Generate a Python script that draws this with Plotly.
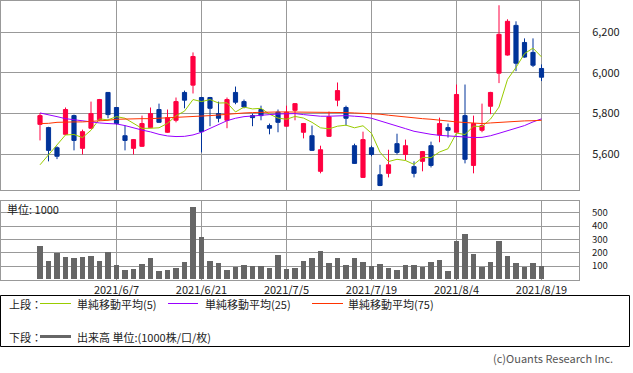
import plotly.graph_objects as go

# ---------------- data ----------------
dates = [
    "2021/5/25", "2021/5/26", "2021/5/27", "2021/5/28", "2021/5/31",
    "2021/6/1", "2021/6/2", "2021/6/3", "2021/6/4", "2021/6/7",
    "2021/6/8", "2021/6/9", "2021/6/10", "2021/6/11", "2021/6/14",
    "2021/6/15", "2021/6/16", "2021/6/17", "2021/6/18", "2021/6/21",
    "2021/6/22", "2021/6/23", "2021/6/24", "2021/6/25", "2021/6/28",
    "2021/6/29", "2021/6/30", "2021/7/1", "2021/7/2", "2021/7/5",
    "2021/7/6", "2021/7/7", "2021/7/8", "2021/7/9", "2021/7/12",
    "2021/7/13", "2021/7/14", "2021/7/15", "2021/7/16", "2021/7/19",
    "2021/7/20", "2021/7/21", "2021/7/26", "2021/7/27", "2021/7/28",
    "2021/7/29", "2021/7/30", "2021/8/2", "2021/8/3", "2021/8/4",
    "2021/8/5", "2021/8/6", "2021/8/10", "2021/8/11", "2021/8/12",
    "2021/8/13", "2021/8/16", "2021/8/17", "2021/8/18", "2021/8/19",
]

open_ = [5747, 5731, 5632, 5698, 5790, 5629, 5728, 5770, 5904, 5830,
         5691, 5629, 5639, 5731, 5820, 5708, 5767, 5904, 5940, 5879,
         5879, 5800, 5767, 5904, 5859, 5790, 5820, 5741, 5807, 5738,
         5816, 5708, 5691, 5516, 5688, 5866, 5830, 5642, 5486, 5632,
         5499, 5506, 5652, 5599, 5539, 5565, 5642, 5695, 5731, 5708,
         5790, 5545, 5718, 5836, 5999, 6088, 6234, 6150, 6101, 6022]
high = [5803, 5735, 5639, 5830, 5795, 5721, 5859, 5872, 5905, 5832,
        5741, 5675, 5790, 5830, 5849, 5820, 5879, 5913, 6101, 5882,
        5882, 5859, 5879, 5933, 5869, 5800, 5839, 5751, 5820, 5839,
        5852, 5754, 5741, 5642, 5810, 5953, 5839, 5652, 5711, 5642,
        5548, 5622, 5701, 5672, 5565, 5616, 5662, 5780, 5751, 5943,
        5943, 5790, 5849, 5907, 6333, 6264, 6254, 6170, 6170, 6042]
low = [5668, 5565, 5576, 5695, 5619, 5599, 5725, 5765, 5777, 5746,
       5619, 5599, 5636, 5728, 5755, 5705, 5757, 5826, 5899, 5609,
       5738, 5757, 5728, 5846, 5826, 5738, 5767, 5698, 5708, 5735,
       5767, 5678, 5616, 5506, 5685, 5836, 5741, 5552, 5483, 5590,
       5443, 5486, 5599, 5570, 5486, 5516, 5535, 5659, 5682, 5705,
       5555, 5506, 5708, 5797, 5950, 6085, 6009, 6075, 6029, 5960]
close = [5790, 5619, 5590, 5820, 5668, 5711, 5800, 5869, 5795, 5751,
         5668, 5672, 5751, 5800, 5757, 5780, 5859, 5866, 6081, 5711,
         5826, 5777, 5869, 5856, 5833, 5780, 5790, 5728, 5757, 5807,
         5849, 5751, 5619, 5622, 5784, 5913, 5777, 5555, 5672, 5599,
         5446, 5548, 5609, 5642, 5506, 5613, 5545, 5751, 5718, 5894,
         5575, 5751, 5741, 5904, 6190, 6254, 6048, 6078, 6038, 5979]

ma5 = [5548, 5596, 5642, 5695, 5697, 5682, 5718, 5774, 5769, 5785,
       5777, 5751, 5727, 5728, 5730, 5752, 5789, 5812, 5869, 5859,
       5869, 5852, 5853, 5808, 5832, 5823, 5826, 5797, 5778, 5772,
       5786, 5778, 5757, 5730, 5725, 5738, 5743, 5730, 5740, 5703,
       5610, 5564, 5575, 5569, 5550, 5584, 5583, 5611, 5627, 5704,
       5697, 5738, 5736, 5773, 5832, 5968, 6027, 6095, 6122, 6079]
ma25 = [5803, 5795, 5785, 5775, 5769, 5764, 5759, 5754, 5751, 5749,
        5741, 5729, 5719, 5710, 5698, 5690, 5687, 5688, 5695, 5708,
        5728, 5749, 5765, 5777, 5785, 5788, 5793, 5795, 5798, 5800,
        5800, 5795, 5790, 5787, 5787, 5788, 5790, 5787, 5784, 5777,
        5765, 5752, 5739, 5726, 5713, 5705, 5698, 5693, 5690, 5687,
        5683, 5682, 5683, 5691, 5703, 5716, 5728, 5741, 5759, 5774]
ma75 = [5751, 5752, 5757, 5759, 5759, 5759, 5761, 5764, 5767, 5772,
        5774, 5774, 5775, 5775, 5777, 5777, 5779, 5782, 5784, 5787,
        5790, 5793, 5797, 5800, 5803, 5805, 5807, 5807, 5808, 5808,
        5808, 5808, 5808, 5808, 5807, 5807, 5805, 5803, 5802, 5800,
        5797, 5792, 5787, 5784, 5780, 5775, 5772, 5767, 5762, 5759,
        5756, 5752, 5751, 5754, 5757, 5761, 5762, 5764, 5765, 5767]

volume = [249, 138, 195, 168, 160, 168, 175, 138, 205, 109,
          73, 80, 116, 160, 65, 73, 88, 131, 546, 316,
          138, 124, 73, 96, 109, 101, 101, 88, 183, 80,
          88, 138, 160, 212, 123, 160, 109, 160, 131, 101,
          116, 86, 72, 109, 109, 94, 131, 146, 65, 286,
          338, 190, 94, 131, 286, 175, 123, 94, 123, 101]

date_ticks = ["2021/6/7", "2021/6/21", "2021/7/5", "2021/7/19", "2021/8/4", "2021/8/19"]
price_ticks = [5600, 5800, 6000, 6200]
vol_ticks = [100, 200, 300, 400, 500]

legend_names = ["単純移動平均(5)", "単純移動平均(25)", "単純移動平均(75)"]
volume_name = "出来高 単位:(1000株/口/枚)"

# ---------------- styling ----------------
RED = "#FF0040"
BLUE = "#003399"
GREEN = "#99CC00"
PURPLE = "#9900FF"
ORANGE = "#FF3300"
GRAY = "#666666"
GRID = "#999999"
FONT = "Noto Sans CJK JP, Noto Sans, sans-serif"

W, H = 633, 373
L, R, T, B = 1, 54, 1, 93
PW = W - L - R
PH = H - T - B


def px(x):
    return (x - L) / PW


def py(y):
    return (H - B - y) / PH


fig = go.Figure()

fig.add_trace(go.Candlestick(
    x=dates, open=open_, high=high, low=low, close=close,
    increasing=dict(line=dict(color=RED, width=1), fillcolor=RED),
    decreasing=dict(line=dict(color=BLUE, width=1), fillcolor=BLUE),
    whiskerwidth=0, xaxis="x", yaxis="y", showlegend=False, hoverinfo="skip",
))
for vals, col, name in [(ma5, GREEN, legend_names[0]),
                        (ma25, PURPLE, legend_names[1]),
                        (ma75, ORANGE, legend_names[2])]:
    fig.add_trace(go.Scatter(x=dates, y=vals, mode="lines", name=name,
                             line=dict(color=col, width=1), xaxis="x", yaxis="y",
                             showlegend=False, hoverinfo="skip"))

fig.add_trace(go.Bar(x=dates, y=volume, marker=dict(color=GRAY, line=dict(width=0)),
                     width=0.7, xaxis="x2", yaxis="y2", showlegend=False,
                     hoverinfo="skip", name=volume_name))

xrange = [-(40 - L) / 8.5, 59 + (W - R - 541.5) / 8.5]
common_x = dict(type="category", range=xrange, autorange=False,
                tickvals=date_ticks, ticktext=date_ticks,
                showgrid=True, gridcolor=GRID, gridwidth=1,
                showline=True, linecolor=GRID, linewidth=1, mirror=True,
                ticks="", zeroline=False, rangeslider=dict(visible=False))

fig.update_layout(
    width=W, height=H,
    margin=dict(l=L, r=R, t=T, b=B, pad=0),
    paper_bgcolor="white", plot_bgcolor="white",
    font=dict(family=FONT, size=11, color="#222222"),
    bargap=0,
    xaxis=dict(**common_x, domain=[0, 1], anchor="y", showticklabels=False),
    xaxis2=dict(**common_x, domain=[0, 1], anchor="y2", matches="x",
                showticklabels=True, ticklabelstandoff=0,
                tickfont=dict(size=11, color="#222222")),
    yaxis=dict(domain=[py(190), py(T)], range=[5424, 6354], autorange=False,
               side="right", tickvals=price_ticks, tickformat=",d",
               showgrid=True, gridcolor=GRID, gridwidth=1,
               showline=True, linecolor=GRID, linewidth=1, mirror=True,
               ticks="", zeroline=False, ticklabelstandoff=10,
               tickfont=dict(size=11, color="#222222"), anchor="x"),
    yaxis2=dict(domain=[0, py(201)], range=[-4, 588], autorange=False,
                side="right", tickvals=vol_ticks,
                showgrid=True, gridcolor=GRID, gridwidth=1,
                showline=True, linecolor=GRID, linewidth=1, mirror=True,
                ticks="", zeroline=False, ticklabelstandoff=10,
                tickfont=dict(size=9.5, color="#222222"), anchor="x2"),
)

shapes = [
    dict(type="rect", xref="paper", yref="paper", x0=px(0.5), x1=px(629.5),
         y0=py(295.5), y1=py(346.5), line=dict(color="black", width=1)),
    dict(type="line", xref="paper", yref="paper", x0=px(40), x1=px(71),
         y0=py(303.5), y1=py(303.5), line=dict(color=GREEN, width=1)),
    dict(type="line", xref="paper", yref="paper", x0=px(168), x1=px(198),
         y0=py(303.5), y1=py(303.5), line=dict(color=PURPLE, width=1)),
    dict(type="line", xref="paper", yref="paper", x0=px(312), x1=px(343),
         y0=py(303.5), y1=py(303.5), line=dict(color=ORANGE, width=1)),
    dict(type="line", xref="paper", yref="paper", x0=px(40), x1=px(71),
         y0=py(336.5), y1=py(336.5), line=dict(color=GRAY, width=3)),
]
fig.update_layout(shapes=shapes)


def ann(text, x, y, anchor="left", size=11, color="#222222"):
    return dict(text=text, xref="paper", yref="paper", x=px(x), y=py(y),
                xanchor=anchor, yanchor="middle", showarrow=False,
                font=dict(family=FONT, size=size, color=color))


annotations = [
    ann("単位: 1000", 5, 209),
    ann("上段：", 7, 303.5),
    ann(legend_names[0], 75, 303.5),
    ann(legend_names[1], 203, 303.5),
    ann(legend_names[2], 346, 303.5),
    ann("下段：", 7, 336.5),
    ann(volume_name, 75, 336.5),
    ann("(c)Ouants Research Inc.", 615, 358, anchor="right", color="#555555"),
]
fig.update_layout(annotations=annotations)

fig.write_html("out.html", config={"displayModeBar": False},
               post_script="document.body.style.margin='0';document.body.style.padding='0';")
